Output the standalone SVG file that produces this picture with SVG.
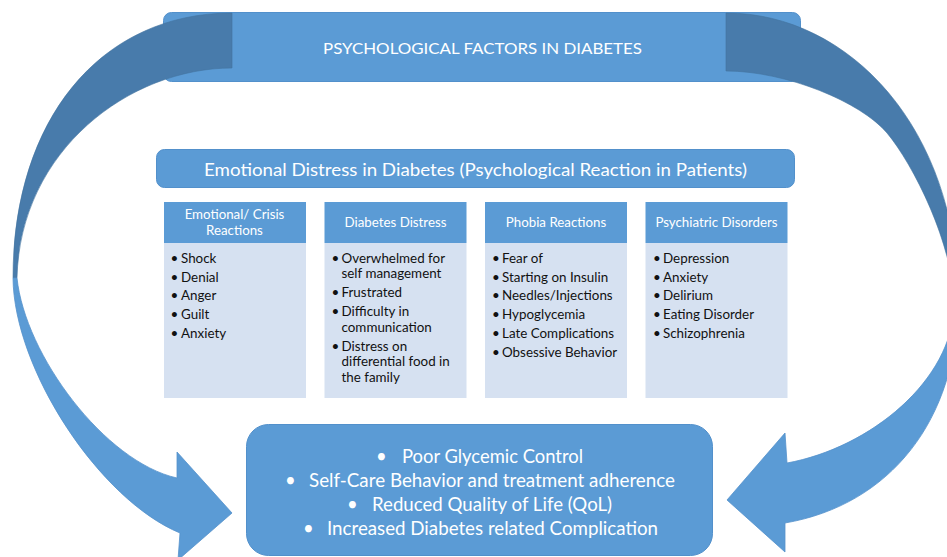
<svg xmlns="http://www.w3.org/2000/svg" width="947" height="557" viewBox="0 0 947 557">
<style>
.box{fill:#5b9bd5;stroke:#5290cb;stroke-width:1}
.hdr{fill:#5b9bd5}
.bdy{fill:#d6e1f1}
.lt{fill:#5b9bd5;stroke:#5592cc;stroke-width:0.8}
.dk{fill:#487bab;stroke:#4373a0;stroke-width:0.6}
.w{fill:#ffffff;font-family:Lato,"Open Sans","Liberation Sans",sans-serif}
.h{font-size:13.3px;text-anchor:middle}
.b{fill:#111111;font-family:Lato,"Open Sans","Liberation Sans",sans-serif;font-size:13.4px}
.o{font-size:18.5px}
</style>
<rect width="947" height="557" fill="#ffffff"/>
<g id="title">
<rect class="box" x="163.5" y="12.5" width="637" height="69" rx="8"/>
<text class="w" x="482.5" y="53.5" font-size="15.5" text-anchor="middle" textLength="319" lengthAdjust="spacingAndGlyphs">PSYCHOLOGICAL FACTORS IN DIABETES</text>
</g>
<g id="connectors">
<g id="arrow-left">
<path class="dk" d="M232,13 C100,13 13,120 13,278 L17,278 C20,150 130,68 232,68 Z"/>
<path class="lt" d="M17,278 C25,355 105,462 177,478 L177,452 L232,513 L178,560 L180,533 C100,500 14,370 13,278 Z"/>
</g>
<g id="arrow-right">
<path class="dk" d="M726,13 C850,13 958,130 958,300 L954,305 C954,245 913,164 887,133 C861,102 786,71 726,71 Z"/>
<path class="lt" d="M954,305 C953,380 870,448 787,463 L785,433 L727,500 L785,552 L785,523 C890,505 958,420 958,300 Z"/>
</g>
</g>
<g id="emotional-distress">
<rect class="box" x="156.5" y="149.5" width="638" height="38" rx="8"/>
<text class="w" x="204" y="176" font-size="17.8" textLength="543" lengthAdjust="spacingAndGlyphs">Emotional Distress in Diabetes (Psychological Reaction in Patients)</text>
</g>
<g id="col-emotional">
<rect class="hdr" x="164" y="202" width="142" height="41"/>
<rect class="bdy" x="164" y="243" width="142" height="155"/>
<text class="w h" x="234.5" y="219.3">Emotional/ Crisis</text>
<text class="w h" x="234.5" y="235.3">Reactions</text>
<g class="b">
<text x="170.5" y="262.7">•</text><text x="181" y="262.7">Shock</text>
<text x="170.5" y="281.5">•</text><text x="181" y="281.5">Denial</text>
<text x="170.5" y="300.3">•</text><text x="181" y="300.3">Anger</text>
<text x="170.5" y="319">•</text><text x="181" y="319">Guilt</text>
<text x="170.5" y="337.7">•</text><text x="181" y="337.7">Anxiety</text>
</g>
</g>
<g id="col-distress">
<rect class="hdr" x="324.5" y="202" width="142" height="41"/>
<rect class="bdy" x="324.5" y="243" width="142" height="155"/>
<text class="w h" x="395.5" y="227.3">Diabetes Distress</text>
<g class="b">
<text x="331.5" y="262.7">•</text><text x="341.5" y="262.7">Overwhelmed for</text>
<text x="341.5" y="278">self management</text>
<text x="331.5" y="297">•</text><text x="341.5" y="297">Frustrated</text>
<text x="331.5" y="316">•</text><text x="341.5" y="316">Difficulty in</text>
<text x="341.5" y="331.5">communication</text>
<text x="331.5" y="350.5">•</text><text x="341.5" y="350.5">Distress on</text>
<text x="341.5" y="366">differential food in</text>
<text x="341.5" y="381.5">the family</text>
</g>
</g>
<g id="col-phobia">
<rect class="hdr" x="485" y="202" width="142" height="41"/>
<rect class="bdy" x="485" y="243" width="142" height="155"/>
<text class="w h" x="556" y="227.3">Phobia Reactions</text>
<g class="b">
<text x="492" y="262.7">•</text><text x="502" y="262.7">Fear of</text>
<text x="492" y="281.5">•</text><text x="502" y="281.5">Starting on Insulin</text>
<text x="492" y="300.3">•</text><text x="502" y="300.3">Needles/Injections</text>
<text x="492" y="319">•</text><text x="502" y="319">Hypoglycemia</text>
<text x="492" y="337.7">•</text><text x="502" y="337.7">Late Complications</text>
<text x="492" y="356.5">•</text><text x="502" y="356.5">Obsessive Behavior</text>
</g>
</g>
<g id="col-psychiatric">
<rect class="hdr" x="645.5" y="202" width="142" height="41"/>
<rect class="bdy" x="645.5" y="243" width="142" height="155"/>
<text class="w h" x="716.5" y="227.3">Psychiatric Disorders</text>
<g class="b">
<text x="653" y="262.7">•</text><text x="663" y="262.7">Depression</text>
<text x="653" y="281.5">•</text><text x="663" y="281.5">Anxiety</text>
<text x="653" y="300.3">•</text><text x="663" y="300.3">Delirium</text>
<text x="653" y="319">•</text><text x="663" y="319">Eating Disorder</text>
<text x="653" y="337.7">•</text><text x="663" y="337.7">Schizophrenia</text>
</g>
</g>
<g id="outcomes">
<rect class="box" x="246.5" y="424.5" width="466" height="131" rx="22"/>
<g class="w o">
<text x="376" y="462.5">•</text><text x="402" y="462.5" textLength="181" lengthAdjust="spacingAndGlyphs">Poor Glycemic Control</text>
<text x="285" y="487">•</text><text x="309" y="487" textLength="366" lengthAdjust="spacingAndGlyphs">Self-Care Behavior and treatment adherence</text>
<text x="347" y="511">•</text><text x="372" y="511" textLength="240" lengthAdjust="spacingAndGlyphs">Reduced Quality of Life (QoL)</text>
<text x="303" y="535">•</text><text x="327" y="535" textLength="331" lengthAdjust="spacingAndGlyphs">Increased Diabetes related Complication</text>
</g>
</g>
</svg>
